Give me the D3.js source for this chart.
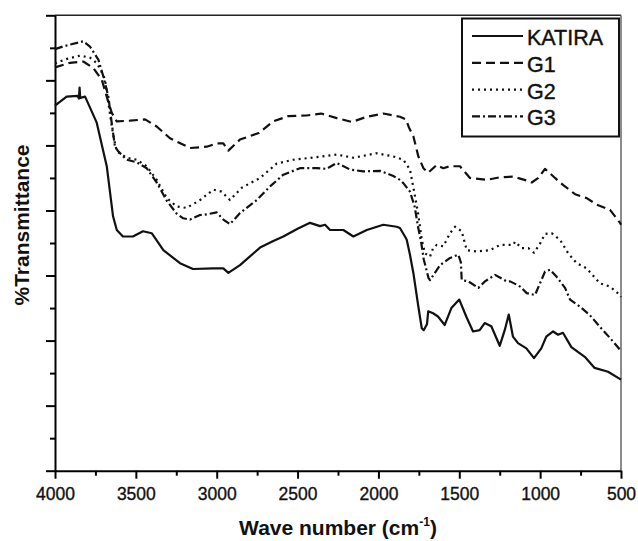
<!DOCTYPE html>
<html lang="en">
<head>
<meta charset="UTF-8">
<title>FTIR spectra - Katira and G1-G3</title>
<script src="https://d3js.org/d3.v7.min.js"></script>
<style>
  body { margin: 0; background: #fff; font-family: 'Liberation Sans', Arial, sans-serif; }
  svg { display: block; }
  .axis path, .axis line { stroke: #000; stroke-width: 2; }
  .axis text { font-family: 'Liberation Sans', Arial, sans-serif; font-size: 17.5px; fill: #111;
    stroke: #111; stroke-width: 0.35; }
  .series { fill: none; stroke: #111; stroke-width: 2.2; stroke-linejoin: round; }
  .title { font-family: 'Liberation Sans', Arial, sans-serif; font-size: 21px; font-weight: bold; fill: #111; }
  .legend text { font-family: 'Liberation Sans', Arial, sans-serif; font-size: 21.5px; fill: #111;
    stroke: #111; stroke-width: 0.4; }
</style>
</head>
<body>
<svg width="638" height="541"></svg>
<script>
  // wavenumber (cm-1), % transmittance (arbitrary scale, axis has no labels)
  const katira = [
    [4000, 56.1], [3928, 57.5], [3860, 57.6], [3852, 57.2], [3848, 58.9], [3844, 57.3],
    [3814, 57.5], [3742, 53.5], [3680, 46.8], [3641, 39.1], [3618, 37.0], [3580, 36.0],
    [3518, 36.0], [3456, 36.8], [3402, 36.5], [3330, 33.9], [3227, 31.9], [3147, 31.0],
    [3021, 31.1], [2959, 31.1], [2928, 30.4], [2856, 31.6], [2732, 34.3], [2650, 35.3],
    [2588, 36.0], [2500, 37.2], [2423, 38.1], [2361, 37.6], [2330, 37.8], [2299, 37.0],
    [2217, 37.0], [2155, 36.0], [2072, 37.0], [1970, 37.8], [1887, 37.5], [1867, 37.3],
    [1836, 36.0], [1825, 35.5], [1805, 33.2], [1784, 30.4], [1753, 25.2], [1732, 21.9],
    [1720, 21.6], [1700, 22.5], [1692, 24.5], [1662, 24.2], [1632, 23.7], [1590, 22.4],
    [1549, 25.0], [1500, 26.3], [1457, 23.7], [1415, 21.4], [1374, 21.6], [1343, 22.7],
    [1302, 22.2], [1250, 19.2], [1219, 21.6], [1194, 24.0], [1168, 20.6], [1137, 19.6],
    [1085, 18.8], [1038, 17.3], [993, 18.8], [962, 20.6], [920, 21.4], [889, 20.9],
    [859, 21.2], [807, 19.0], [724, 17.5], [663, 15.8], [580, 15.2], [500, 14.0]
  ];
  const g1 = [
    [4000, 62.0], [3907, 62.7], [3825, 62.9], [3763, 61.9], [3711, 60.1], [3680, 57.5],
    [3649, 55.0], [3618, 53.7], [3536, 53.8], [3443, 54.0], [3371, 52.9], [3289, 51.1],
    [3165, 49.6], [3062, 49.8], [3000, 50.3], [2959, 50.3], [2928, 49.2], [2856, 50.9],
    [2740, 51.9], [2650, 53.7], [2557, 54.5], [2444, 54.6], [2354, 54.9], [2258, 54.2],
    [2165, 53.6], [2072, 54.4], [1970, 54.9], [1867, 54.4], [1830, 54.0], [1812, 52.8],
    [1784, 51.4], [1753, 48.3], [1722, 46.5], [1692, 45.8], [1640, 47.0], [1599, 46.5],
    [1557, 46.8], [1496, 46.8], [1434, 45.0], [1331, 44.7], [1248, 45.1], [1166, 45.2],
    [1083, 44.6], [1052, 44.3], [1011, 45.0], [970, 46.4], [908, 45.0], [857, 43.9],
    [784, 42.5], [712, 41.9], [650, 40.9], [568, 40.1], [506, 38.1], [500, 37.8]
  ];
  const g2 = [
    [4000, 62.6], [3926, 63.3], [3845, 63.8], [3784, 63.5], [3740, 62.6], [3703, 60.9],
    [3691, 60.1], [3664, 55.5], [3639, 51.4], [3618, 49.1], [3557, 48.1], [3495, 47.8],
    [3433, 46.8], [3371, 44.7], [3309, 41.9], [3247, 40.6], [3186, 40.4], [3103, 41.6],
    [3021, 43.2], [2970, 42.9], [2918, 41.6], [2845, 43.5], [2732, 45.0], [2629, 47.2],
    [2526, 47.8], [2382, 48.2], [2258, 48.6], [2155, 48.1], [2011, 48.8], [1908, 48.3],
    [1846, 47.8], [1805, 46.3], [1780, 43.0], [1755, 39.6], [1732, 35.5], [1712, 33.4],
    [1681, 32.9], [1662, 34.2], [1640, 34.7], [1599, 34.5], [1557, 36.5], [1526, 37.5],
    [1485, 36.8], [1454, 33.9], [1392, 33.7], [1310, 33.9], [1248, 34.7], [1166, 34.7],
    [1155, 35.2], [1114, 34.2], [1073, 34.2], [1038, 33.5], [1001, 34.9], [970, 36.4],
    [929, 36.5], [877, 35.5], [826, 33.4], [774, 31.9], [712, 31.1], [630, 28.8],
    [568, 28.3], [506, 27.0], [500, 26.7]
  ];
  const g3 = [
    [4000, 64.8], [3951, 65.2], [3907, 65.5], [3825, 66.0], [3784, 65.2], [3732, 63.2],
    [3701, 60.6], [3670, 57.5], [3649, 53.4], [3629, 49.8], [3609, 49.1], [3557, 47.8],
    [3495, 47.4], [3433, 46.5], [3371, 44.3], [3309, 41.5], [3247, 39.5], [3207, 38.8],
    [3165, 38.6], [3103, 39.3], [3062, 39.4], [3000, 39.7], [2959, 38.6], [2918, 37.9],
    [2856, 39.6], [2753, 41.6], [2670, 43.7], [2588, 45.5], [2485, 46.5], [2382, 46.5],
    [2320, 46.4], [2258, 47.3], [2176, 46.3], [2094, 46.0], [1990, 46.1], [1908, 45.3],
    [1867, 44.7], [1846, 44.2], [1805, 42.9], [1776, 40.6], [1755, 37.5], [1735, 35.0],
    [1720, 32.5], [1690, 29.6], [1681, 29.3], [1619, 31.6], [1557, 32.7], [1506, 33.2],
    [1490, 32.0], [1485, 29.3], [1444, 29.1], [1382, 28.1], [1341, 29.1], [1279, 30.1],
    [1207, 29.1], [1186, 29.1], [1145, 28.6], [1124, 28.3], [1083, 27.3], [1032, 27.0],
    [1001, 28.8], [970, 30.6], [939, 30.9], [898, 29.8], [846, 28.1], [815, 26.3],
    [753, 25.2], [692, 23.9], [630, 22.1], [568, 20.4], [506, 18.6], [500, 18.3]
  ];

  const seriesNames = ["KATIRA", "G1", "G2", "G3"];
  const seriesData = [katira, g1, g2, g3];
  const dashes = [null, "9,5", "2,4", "8,3,2,3"];

  const xMajor = [4000, 3500, 3000, 2500, 2000, 1500, 1000, 500];
  const xMinor = [3750, 3250, 2750, 2250, 1750, 1250, 750];
  const yMajor = [0, 10, 20, 30, 40, 50, 60, 70];
  const yMinor = [5, 15, 25, 35, 45, 55, 65];

  const svg = d3.select("svg");
  const plotL = 55, plotR = 621, plotT = 15.3, plotB = 470.7;

  const x = d3.scaleLinear().domain([4000, 500]).range([plotL, plotR]);
  const y = d3.scaleLinear().domain([0, 70]).range([plotB, plotT]);

  // frame top/right
  svg.append("line").attr("x1", plotL).attr("x2", plotR).attr("y1", plotT).attr("y2", plotT)
    .attr("stroke", "#222").attr("stroke-width", 1.5);
  svg.append("line").attr("x1", plotR).attr("x2", plotR).attr("y1", plotT).attr("y2", plotB)
    .attr("stroke", "#666").attr("stroke-width", 1.5);

  // minor ticks first
  svg.append("g").attr("class", "axis").attr("transform", `translate(0,${plotB})`)
    .call(d3.axisBottom(x).tickValues(xMinor).tickSize(5).tickSizeOuter(0).tickFormat(""))
    .select(".domain").remove();
  svg.append("g").attr("class", "axis").attr("transform", `translate(${plotL},0)`)
    .call(d3.axisLeft(y).tickValues(yMinor).tickSize(5).tickSizeOuter(0).tickFormat(""))
    .select(".domain").remove();

  svg.append("g").attr("class", "axis").attr("transform", `translate(0,${plotB})`)
    .call(d3.axisBottom(x).tickValues(xMajor).tickSize(8).tickSizeOuter(0).tickPadding(9)
      .tickFormat(d3.format("d")));
  svg.append("g").attr("class", "axis").attr("transform", `translate(${plotL},0)`)
    .call(d3.axisLeft(y).tickValues(yMajor).tickSize(9).tickSizeOuter(0).tickFormat(""));

  // spectra
  const line = d3.line().x(d => x(d[0])).y(d => y(d[1]));
  seriesData.forEach((data, i) => {
    svg.append("path")
      .datum(data)
      .attr("class", "series")
      .attr("stroke-dasharray", dashes[i])
      .attr("d", line);
  });

  // axis titles
  const xt = svg.append("text").attr("class", "title")
    .attr("x", (plotL + plotR) / 2).attr("y", 535).attr("text-anchor", "middle");
  xt.append("tspan").text("Wave number (cm");
  xt.append("tspan").attr("font-size", "12px").attr("dy", "-9").text("-1");
  xt.append("tspan").attr("dy", "9").text(")");

  svg.append("text").attr("class", "title")
    .attr("transform", "translate(29,225) rotate(-90)")
    .attr("text-anchor", "middle")
    .text("%Transmittance");

  // legend
  const lg = svg.append("g").attr("class", "legend");
  lg.append("rect").attr("x", 462).attr("y", 18.5).attr("width", 157).attr("height", 118)
    .attr("fill", "#fff").attr("stroke", "#111").attr("stroke-width", 2);
  seriesNames.forEach((name, i) => {
    const cy = 36 + i * 26.8;
    lg.append("line").attr("x1", 472).attr("x2", 523).attr("y1", cy).attr("y2", cy)
      .attr("stroke", "#111").attr("stroke-width", 2.2)
      .attr("stroke-dasharray", dashes[i]);
    lg.append("text").attr("x", 527).attr("y", cy + 9).text(name);
  });
</script>
</body>
</html>
